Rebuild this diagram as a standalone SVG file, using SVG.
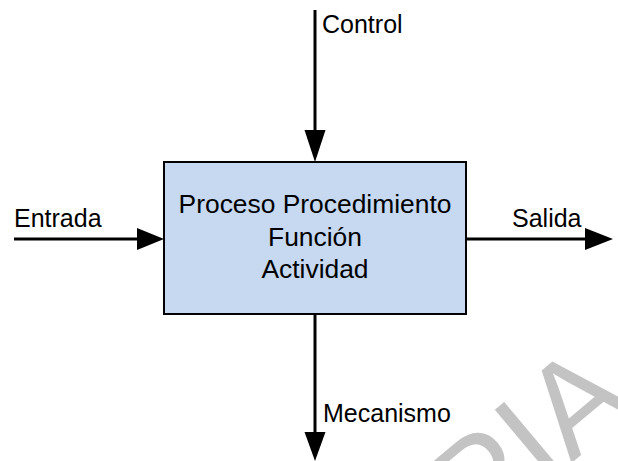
<svg xmlns="http://www.w3.org/2000/svg" width="618" height="461" viewBox="0 0 618 461">
<style>
.lbl{font-family:"Liberation Sans",Arial,sans-serif;font-size:25px;fill:#000}
.box{font-family:"Liberation Sans",Arial,sans-serif;font-size:26.4px;fill:#000;text-anchor:middle}
.wire{stroke:#000;stroke-width:3;fill:none}
.head{fill:#000}
.wm{font-family:"Liberation Sans",Arial,sans-serif;font-size:131px;fill:#c3c3c3}
</style>
<rect width="618" height="461" fill="#fff"/>
<text class="wm" transform="translate(326,669) rotate(-40)">COPIA</text>
<g id="connectors">
<line class="wire" x1="315" y1="10" x2="315" y2="135"/>
<polygon class="head" points="304.5,130 325.5,130 315,162"/>
<line class="wire" x1="14" y1="239" x2="140" y2="239"/>
<polygon class="head" points="137,228 137,250 164,239"/>
<line class="wire" x1="466" y1="239" x2="588" y2="239"/>
<polygon class="head" points="585,228 585,250 613,239"/>
<line class="wire" x1="315" y1="314" x2="315" y2="436"/>
<polygon class="head" points="304.5,432 325.5,432 315,461"/>
</g>
<g id="process">
<rect x="164" y="162" width="302" height="152" fill="#c6d9f1" stroke="#000" stroke-width="2"/>
<text class="box" x="315" y="213">Proceso Procedimiento</text>
<text class="box" x="315" y="245.5">Función</text>
<text class="box" x="315" y="277.5">Actividad</text>
</g>
<g id="label-control"><text class="lbl" x="322" y="33">Control</text></g>
<g id="label-entrada"><text class="lbl" x="14" y="227">Entrada</text></g>
<g id="label-salida"><text class="lbl" x="512" y="227">Salida</text></g>
<g id="label-mecanismo"><text class="lbl" x="323" y="421.5">Mecanismo</text></g>
</svg>
